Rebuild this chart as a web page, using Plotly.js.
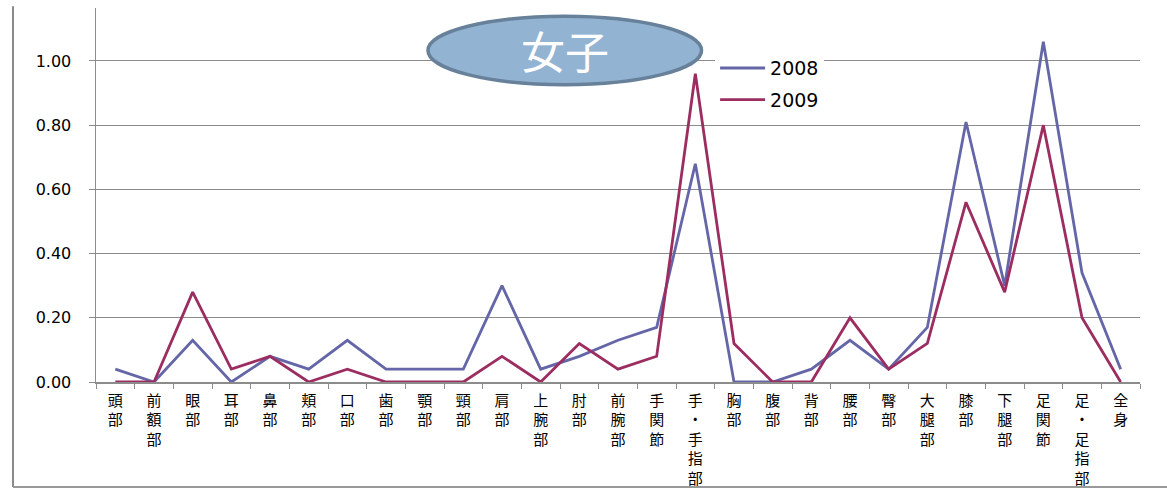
<!DOCTYPE html>
<html>
<head>
<meta charset="utf-8">
<script src="https://cdn.plot.ly/plotly-3.0.1.min.js"></script>
<style>
html,body{margin:0;padding:0;background:#fff;}
#chart{width:1167px;height:492px;}
</style>
</head>
<body>
<div id="chart"></div>
<script>
const categories = ["頭部","前額部","眼部","耳部","鼻部","頬部","口部","歯部","顎部","頸部","肩部","上腕部","肘部","前腕部","手関節","手・手指部","胸部","腹部","背部","腰部","臀部","大腿部","膝部","下腿部","足関節","足・足指部","全身"];
const tickLabels = ["頭<br>部","前<br>額<br>部","眼<br>部","耳<br>部","鼻<br>部","頬<br>部","口<br>部","歯<br>部","顎<br>部","頸<br>部","肩<br>部","上<br>腕<br>部","肘<br>部","前<br>腕<br>部","手<br>関<br>節","手<br>・<br>手<br>指<br>部","胸<br>部","腹<br>部","背<br>部","腰<br>部","臀<br>部","大<br>腿<br>部","膝<br>部","下<br>腿<br>部","足<br>関<br>節","足<br>・<br>足<br>指<br>部","全<br>身"];
const values2008 = [0.04,0.00,0.13,0.00,0.08,0.04,0.13,0.04,0.04,0.04,0.30,0.04,0.08,0.13,0.17,0.68,0.00,0.00,0.04,0.13,0.04,0.17,0.81,0.30,1.06,0.34,0.04];
const values2009 = [0.00,0.00,0.28,0.04,0.08,0.00,0.04,0.00,0.00,0.00,0.08,0.00,0.12,0.04,0.08,0.96,0.12,0.00,0.00,0.20,0.04,0.12,0.56,0.28,0.80,0.20,0.00];
const yTicks = [0,0.2,0.4,0.6,0.8,1.0];
const yTickText = ["0.00","0.20","0.40","0.60","0.80","1.00"];
const titleText = "女子";

const traces = [
  {x: categories, y: values2008, name: "2008", type: "scatter", mode: "lines",
   line: {color: "#6466a8", width: 2.8}, legendgroup: "a"},
  {x: categories, y: values2009, name: "2009", type: "scatter", mode: "lines",
   line: {color: "#9b2d60", width: 2.8}, legendgroup: "b"}
];

const layout = {
  width: 1167, height: 492,
  margin: {l: 96, r: 27, t: 8, b: 110},
  paper_bgcolor: "#ffffff", plot_bgcolor: "rgba(0,0,0,0)",
  showlegend: true,
  legend: {x: 0.593, y: 0.89, xanchor: "left", yanchor: "top",
           bgcolor: "#ffffff", borderwidth: 0, tracegroupgap: 4,
           traceorder: "grouped", itemwidth: 45,
           font: {family: "DejaVu Sans, sans-serif", size: 19, color: "#000"}},
  xaxis: {type: "category", categoryorder: "array", categoryarray: categories,
          tickmode: "array", tickvals: categories, ticktext: tickLabels,
          tickangle: 0, tickson: "boundaries", ticks: "outside", ticklen: 5,
          tickcolor: "#8c8c8c", showline: true, linecolor: "#8c8c8c", linewidth: 1.5,
          showgrid: false, zeroline: false, range: [-0.5, 26.5], ticklabelstandoff: 4,
          tickfont: {family: "Noto Sans CJK JP, sans-serif", size: 15, color: "#000"}},
  yaxis: {range: [0, 1.165], tickmode: "array", tickvals: yTicks, ticktext: yTickText,
          ticks: "outside", ticklen: 6, tickcolor: "#8c8c8c",
          showline: true, linecolor: "#8c8c8c", linewidth: 1.5, ticklabelstandoff: 14,
          showgrid: true, gridcolor: "#8c8c8c", gridwidth: 1, zeroline: false,
          tickfont: {family: "DejaVu Sans, sans-serif", size: 16, color: "#000"}},
  shapes: [
    {type: "line", xref: "paper", yref: "paper", x0: -0.0795, x1: -0.0795, y0: 1.005, y1: -0.2805,
     line: {color: "#8a8a8a", width: 2}},
    {type: "line", xref: "paper", yref: "paper", x0: -0.0795, x1: 1.03, y0: -0.2805, y1: -0.2805,
     line: {color: "#999999", width: 2}},
    {type: "circle", xref: "paper", yref: "paper", x0: 0.318, x1: 0.580, y0: 0.795, y1: 0.978,
     fillcolor: "#93b3d3", line: {color: "#68819a", width: 3.5}, layer: "above"}
  ],
  annotations: [
    {xref: "paper", yref: "paper", x: 0.449, y: 0.888, text: titleText, showarrow: false,
     xanchor: "center", yanchor: "middle",
     font: {family: "Noto Sans CJK JP, sans-serif", size: 44, color: "#ffffff"}}
  ]
};

Plotly.newPlot("chart", traces, layout, {displayModeBar: false, staticPlot: true});
</script>
</body>
</html>
